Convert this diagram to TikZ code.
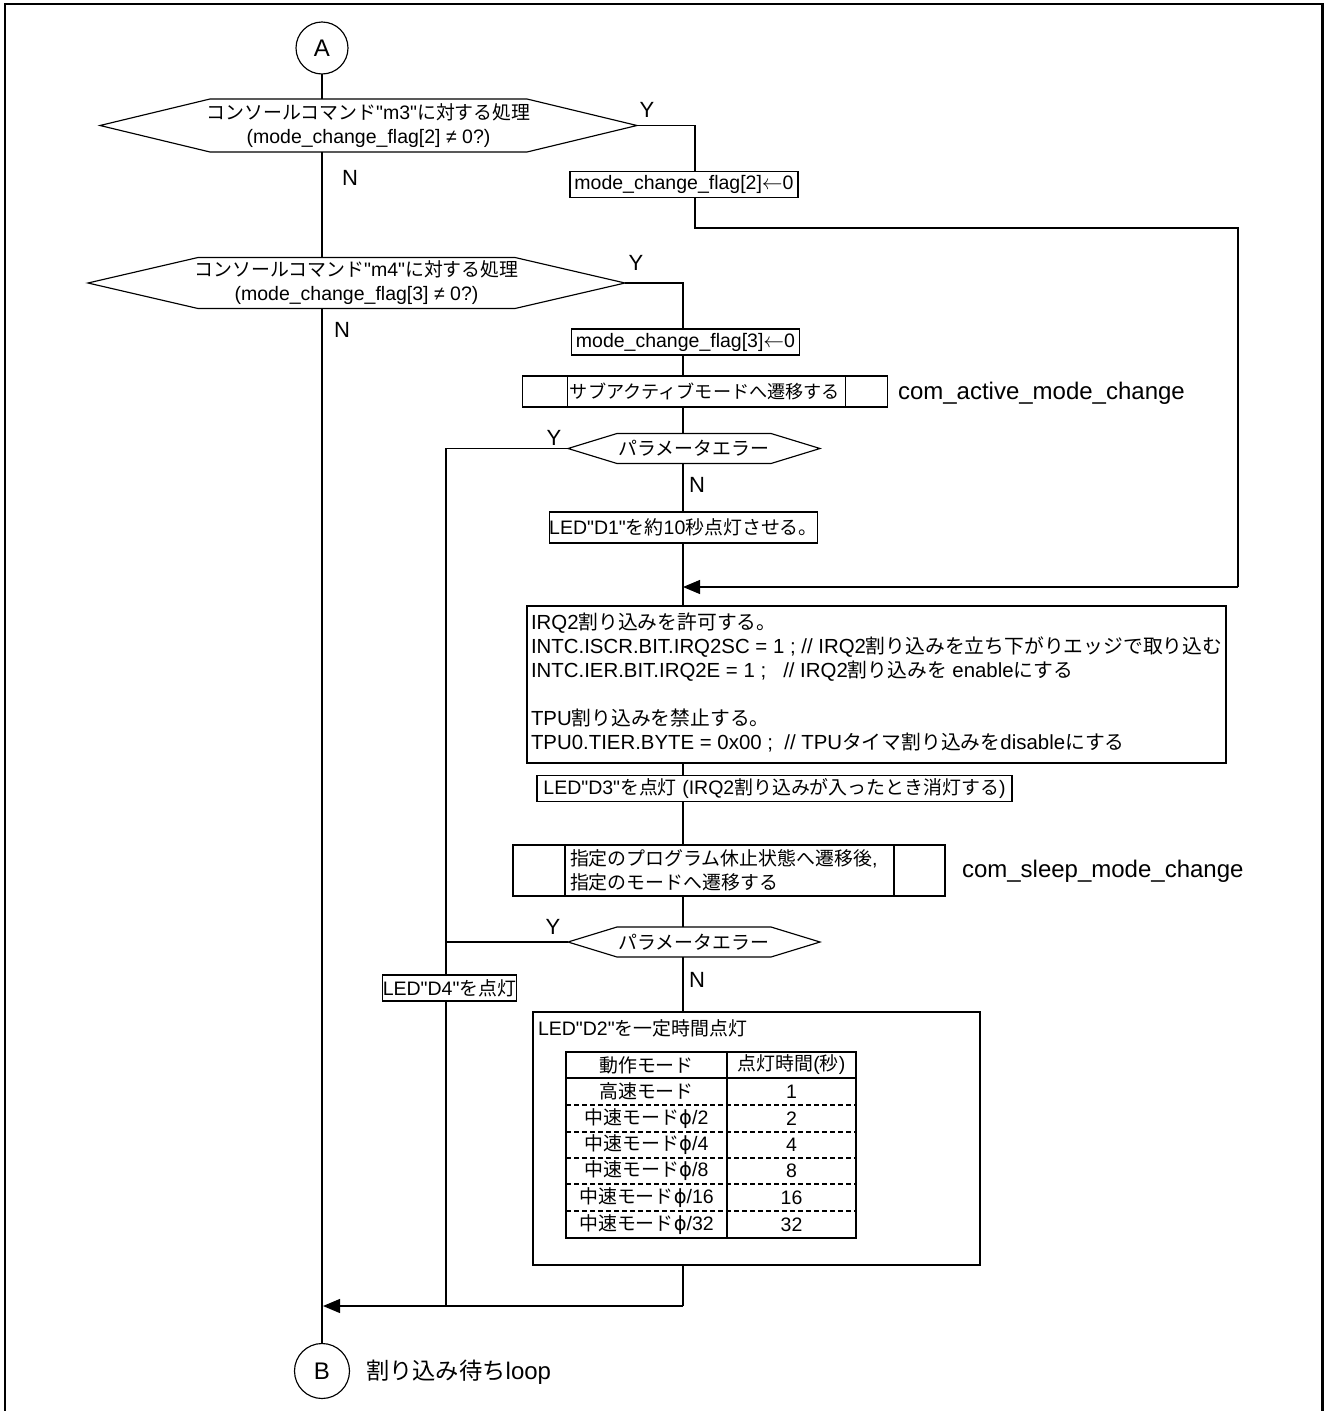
\documentclass[tikz,border=0pt]{standalone}
\usepackage{fontspec}
\setmainfont{Liberation Sans}[Ligatures=TeXOff]
\newfontfamily\jpfont{Noto Sans CJK JP}[Scale=0.97]
\newfontfamily\dvsfont{DejaVu Sans}
\usetikzlibrary{arrows.meta,calc}
% automatic switch to the Japanese font for CJK characters
\XeTeXinterchartokenstate=1
\newXeTeXintercharclass\JPclass
\makeatletter
\count@="3000
\loop\XeTeXcharclass\count@=\JPclass\ifnum\count@<"30FF\advance\count@\@ne\repeat
\count@="4E00
\loop\XeTeXcharclass\count@=\JPclass\ifnum\count@<"9FFF\advance\count@\@ne\repeat
\count@="FF00
\loop\XeTeXcharclass\count@=\JPclass\ifnum\count@<"FFEF\advance\count@\@ne\repeat
\makeatother
\XeTeXinterchartoks 0 \JPclass = {\begingroup\jpfont}
\XeTeXinterchartoks 4095 \JPclass = {\begingroup\jpfont}
\XeTeXinterchartoks \JPclass 0 = {\endgroup}
\XeTeXinterchartoks \JPclass 4095 = {\endgroup}
\newcommand\myBody{\fontsize{19.5}{24}\selectfont}
\newcommand\phiS{{\dvsfont ϕ}}
\newcommand\hexa[2]{\draw[ln] (#1.west) -- ($(#1.north west)+(#2,0)$) -- ($(#1.north east)-(#2,0)$) -- (#1.east) -- ($(#1.south east)-(#2,0)$) -- ($(#1.south west)+(#2,0)$) -- cycle;}
\newcommand\subr[3]{\draw[ln] ($(#1.north west)+(#2,0)$) -- ($(#1.south west)+(#2,0)$);
  \draw[ln] ($(#1.north east)-(#3,0)$) -- ($(#1.south east)-(#3,0)$);}
\begin{document}
\begin{tikzpicture}[x=1pt,y=-1pt,
  every node/.style={inner sep=0pt,outer sep=0pt},
  ln/.style={line width=1.15pt},
  bx/.style={draw,line width=1.15pt,font=\myBody},
  dec/.style={font=\myBody,align=center},
  txt/.style={font=\myBody},
  yn/.style={font=\fontsize{22}{24}\selectfont},
  big/.style={font=\fontsize{24}{26}\selectfont},
  con/.style={draw,circle,line width=1.15pt,font=\fontsize{24}{26}\selectfont},
  arr/.style={-{Triangle[length=17pt,width=14pt]}},
  tbl/.style={line width=2.4pt},
  dsh/.style={line width=1.1pt,dash pattern=on 5pt off 3pt}]
\useasboundingbox (0,0) rectangle (1324,1411);
% frame
\draw[line width=2.3pt] (5,1411) -- (5,4) -- (1322.5,4) -- (1322.5,1411);

% connectors
\node[con,minimum size=52pt] (A) at (322,48) {A};
\node[con,minimum size=55pt] (B) at (322,1371) {B};
\node[big,anchor=west] (Bt) at (366,1372) {割り込み待ちloop};

\coordinate (cx) at (683,0);
\coordinate (cy) at (695,0);
\coordinate (lx) at (446,0);

% decisions
\node[dec,minimum width=537pt,minimum height=53pt] (d1) at (368.5,125.5)
  {コンソールコマンド"m3"に対する処理\\(mode\_change\_flag[2] ≠ 0?)};
\hexa{d1}{110}
\node[dec,minimum width=537pt,minimum height=51pt] (d2) at (356.5,283)
  {コンソールコマンド"m4"に対する処理\\(mode\_change\_flag[3] ≠ 0?)};
\hexa{d2}{110}
\node[dec,minimum width=252pt,minimum height=30pt] (d3) at (694,448.5) {パラメータエラー};
\hexa{d3}{49}
\node[dec,minimum width=252pt,minimum height=30pt] (d4) at (694,942) {パラメータエラー};
\hexa{d4}{49}

% labels Y / N
\node[yn] (y1) at (647,110) {Y};
\node[yn] (n1) at (350,178) {N};
\node[yn] (y2) at (636,263) {Y};
\node[yn] (n2) at (342,330) {N};
\node[yn] (y3) at (554,438) {Y};
\node[yn] (n3) at (697,485) {N};
\node[yn] (y4) at (553,927) {Y};
\node[yn] (n4) at (697,980) {N};

% boxes
\node[bx,minimum width=228pt,minimum height=26pt] (b1) at (684,184.5) {mode\_change\_flag[2]$\leftarrow$0};
\node[bx,minimum width=228pt,minimum height=26pt] (b2) at (685.5,342) {mode\_change\_flag[3]$\leftarrow$0};
\node[bx,minimum width=365pt,minimum height=31pt,font=\fontsize{18.7}{22}\selectfont] (s1) at (705,391.5) {サブアクティブモードへ遷移する};
\subr{s1}{45}{42}
\node[big,anchor=west] (s1n) at (898,393) {com\_active\_mode\_change};
\node[bx,minimum width=267pt,minimum height=31pt] (D1) at (683.5,527.5) {LED"D1"を約10秒点灯させる。};
\node[bx,minimum width=699pt,minimum height=157pt] (irq) at (876.5,684.5) {};
\node[anchor=west,align=left,font=\fontsize{20.4}{24}\selectfont] (irqt) at ($(irq.west)+(4,-2)$) {IRQ2割り込みを許可する。\\
INTC.ISCR.BIT.IRQ2SC = 1 ; // IRQ2割り込みを立ち下がりエッジで取り込む\\
INTC.IER.BIT.IRQ2E = 1 ; \ \ // IRQ2割り込みを enableにする\\
\mbox{}\\
TPU割り込みを禁止する。\\
TPU0.TIER.BYTE = 0x00 ; \ // TPUタイマ割り込みをdisableにする};
\node[bx,minimum width=475pt,minimum height=26pt] (D3) at (774.5,788.5) {LED"D3"を点灯 (IRQ2割り込みが入ったとき消灯する)};
\node[bx,minimum width=432pt,minimum height=51pt] (s2) at (729,870.5) {};
\subr{s2}{52}{51}
\node[txt,anchor=west,align=left] (s2t) at (570,870.5) {指定のプログラム休止状態へ遷移後,\\指定のモードへ遷移する};
\node[big,anchor=west] (s2n) at (962,871) {com\_sleep\_mode\_change};
\node[bx,minimum width=129pt,minimum height=26pt] (D4) at (449.5,988) {LED"D4"を点灯};
\node[bx,minimum width=447pt,minimum height=253pt] (D2) at (756.5,1138.5) {};
\node[txt,anchor=west] (D2t) at (538,1028) {LED"D2"を一定時間点灯};

% table
\draw[tbl] (566,1052) rectangle (856,1238);
\draw[tbl] (566,1078) -- (856,1078);
\draw[tbl] (727,1052) -- (727,1238);
\foreach \yy in {1105,1132,1158,1184,1211} \draw[dsh] (566,\yy) -- (856,\yy);
\node[txt] (h1) at (646.5,1065) {動作モード};
\node[txt] (h2) at (791.5,1065) {点灯時間(秒)};
\foreach \yy/\m/\v [count=\i] in {1091.5/{高速モード}/1, 1118.5/{中速モード\phiS/2}/2, 1145/{中速モード\phiS/4}/4, 1171/{中速モード\phiS/8}/8, 1197.5/{中速モード\phiS/16}/16, 1224.5/{中速モード\phiS/32}/32}{
  \node[txt] (m\i) at (646.5,\yy) {\m};
  \node[txt] (v\i) at (791.5,\yy) {\v};
}

% connector coordinates
\coordinate (r1) at (695,228);
\coordinate (r2) at (1238,228);
\coordinate (r3) at (1238,587);
\coordinate (r4) at (683,587);
\coordinate (j1) at (683,1306);
\coordinate (j2) at (323,1306);
\coordinate (j3) at (446,1306);

% main line
\draw[ln] (A.south) -- (A.south |- d1.north);
\draw[ln] (A.south |- d1.south) -- (A.south |- d2.north);
\draw[ln] (A.south |- d2.south) -- (B.north);
% m3 branch
\draw[ln] (d1.east) -- (cy |- d1.east) -- (cy |- b1.north);
\draw[ln] (cy |- b1.south) -- (r1) -- (r2) -- (r3);
\draw[ln,arr] (r3) -- (r4);
% m4 branch
\draw[ln] (d2.east) -- (cx |- d2.east) -- (cx |- b2.north);
\draw[ln] (cx |- b2.south) -- (cx |- s1.north);
\draw[ln] (cx |- s1.south) -- (cx |- d3.north);
\draw[ln] (cx |- d3.south) -- (cx |- D1.north);
\draw[ln] (cx |- D1.south) -- (cx |- irq.north);
\draw[ln] (cx |- irq.south) -- (cx |- D3.north);
\draw[ln] (cx |- D3.south) -- (cx |- s2.north);
\draw[ln] (cx |- s2.south) -- (cx |- d4.north);
\draw[ln] (cx |- d4.south) -- (cx |- D2.north);
\draw[ln] (cx |- D2.south) -- (j1);
\draw[ln,arr] (j1) -- (j2);
% error branches
\draw[ln] (d3.west) -- (lx |- d3.west) -- (lx |- D4.north);
\draw[ln] (d4.west) -- (lx |- d4.west);
\draw[ln] (lx |- D4.south) -- (j3);
\end{tikzpicture}
\end{document}
